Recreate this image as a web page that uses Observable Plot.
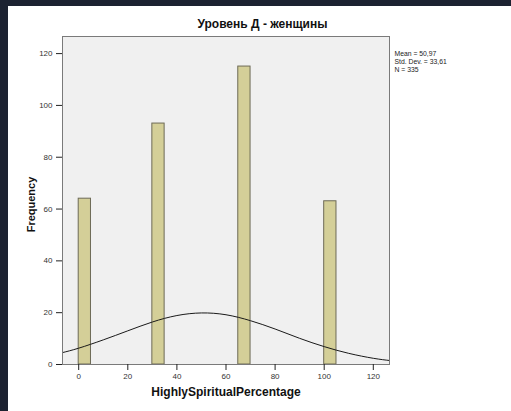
<!DOCTYPE html>
<html>
<head>
<meta charset="utf-8">
<script src="https://cdn.jsdelivr.net/npm/d3@7"></script>
<script src="https://cdn.jsdelivr.net/npm/@observablehq/plot@0.6"></script>
<style>
  html, body { margin: 0; padding: 0; background: #1c2231; width: 511px; height: 411px; overflow: hidden; }
  #panel { position: absolute; left: 8px; top: 6px; width: 503px; height: 405px; background: #ffffff; font-family: "Liberation Sans", Arial, sans-serif; }
  #title { box-sizing: border-box; height: 24px; padding-top: 12px; padding-left: 6px; line-height: 12px; font-size: 12px; font-weight: bold; text-align: center; color: #111; }
  #chart svg { display: block; }
</style>
</head>
<body>
<div id="panel">
  <div id="title">Уровень Д - женщины</div>
  <div id="chart"></div>
</div>
<script>
// Histogram bins (start of bin) and frequencies
const binStarts = [0, 30, 65, 100];
const binWidth = 5;
const counts = [64, 93, 115, 63];

// Normal curve overlay
const curveX = [-7, 0, 10, 20, 30, 40, 50, 60, 70, 80, 90, 100, 110, 120, 127];
const curveY = [4.5, 6.3, 9.5, 13.0, 16.4, 18.9, 19.9, 19.2, 16.9, 13.7, 10.1, 6.9, 4.3, 2.4, 1.5];

// Axis ticks
const xTicks = [0, 20, 40, 60, 80, 100, 120];
const yTicks = [0, 20, 40, 60, 80, 100, 120];

// Stats legend
const statsLines = ["Mean = 50,97", "Std. Dev. = 33,61", "N = 335"];

const bars = binStarts.map((s, i) => ({x1: s, x2: s + binWidth, count: counts[i]}));
const curve = curveX.map((x, i) => ({x, y: curveY[i]}));

const chart = Plot.plot({
  width: 503,
  height: 381,
  marginLeft: 54,
  marginRight: 122,
  marginTop: 6,
  marginBottom: 47,
  style: {fontFamily: "'Liberation Sans', Arial, sans-serif", fontSize: "8px", color: "#333", background: "transparent"},
  x: {domain: [-6.6, 126.6]},
  y: {domain: [0, 126.6]},
  marks: [
    Plot.frame({fill: "#f0f0f0", stroke: "none"}),
    Plot.rectY(bars, {x1: "x1", x2: "x2", y: "count", fill: "#d4cf98", stroke: "#6d6a56", strokeWidth: 1, inset: 0}),
    Plot.line(curve, {x: "x", y: "y", curve: "natural", stroke: "#1a1a1a", strokeWidth: 1, clip: true}),
    Plot.frame({stroke: "#7a7a7a", strokeWidth: 1}),
    Plot.axisX({ticks: xTicks, tickSize: 6, tickPadding: 3, label: null, stroke: "#222"}),
    Plot.axisY({ticks: yTicks, tickSize: 6, tickPadding: 4, label: null, stroke: "#222"}),
    Plot.text(["HighlySpiritualPercentage"], {frameAnchor: "bottom", dy: 31, text: d => d, fontSize: 12, fontWeight: "bold", fill: "#111"}),
    Plot.text(["Frequency"], {frameAnchor: "left", textAnchor: "middle", dx: -31, dy: 4, rotate: -90, text: d => d, fontSize: 11, fontWeight: "bold", fill: "#111"}),
    Plot.text([statsLines.join("\n")], {frameAnchor: "top-right", textAnchor: "start", lineAnchor: "top", dx: 5, dy: 14, text: d => d, fontSize: 6.8, lineHeight: 1.18, fill: "#222"})
  ]
});
document.getElementById("chart").appendChild(chart);
</script>
</body>
</html>
